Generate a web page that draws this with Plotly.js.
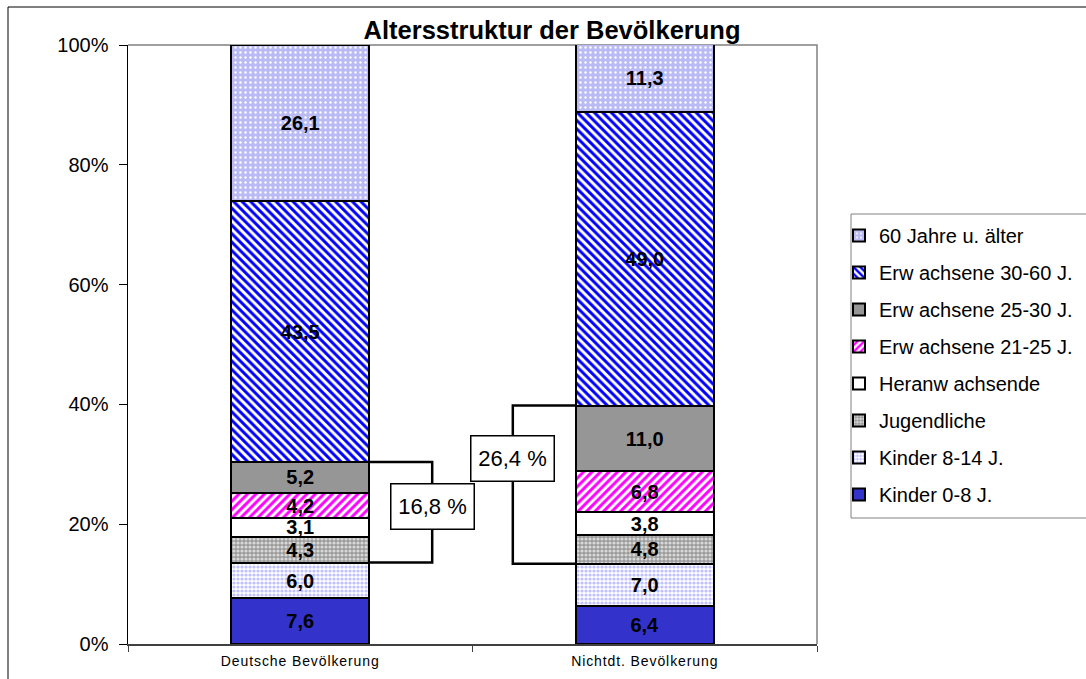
<!DOCTYPE html>
<html>
<head>
<meta charset="utf-8">
<script src="https://cdn.plot.ly/plotly-3.0.1.min.js"></script>
<style>
  html, body { margin: 0; padding: 0; background: #ffffff; }
  #chart { width: 1086px; height: 679px; }
  #chart .xtick text { letter-spacing: 0.9px; }
</style>
</head>
<body>
<div id="chart"></div>
<script>
// ---- Data ----
const categories = ['Deutsche Bevölkerung', 'Nichtdt. Bevölkerung'];
const seriesNames = [
  'Kinder 0-8 J.',
  'Kinder 8-14 J.',
  'Jugendliche',
  'Heranw achsende',
  'Erw achsene 21-25 J.',
  'Erw achsene 25-30 J.',
  'Erw achsene 30-60 J.',
  '60 Jahre u. älter'
];
const kinder0_8     = [7.6, 6.4];
const kinder8_14    = [6.0, 7.0];
const jugendliche   = [4.3, 4.8];
const heranwachsend = [3.1, 3.8];
const erw21_25      = [4.2, 6.8];
const erw25_30      = [5.2, 11.0];
const erw30_60      = [43.5, 49.0];
const ab60          = [26.1, 11.3];
const seriesValues = [kinder0_8, kinder8_14, jugendliche, heranwachsend, erw21_25, erw25_30, erw30_60, ab60];
const yTickVals = [0, 20, 40, 60, 80, 100];
const bracketLabels = ['16,8 %', '26,4 %'];

// ---- Styles ----
const FONT = 'Liberation Sans, Arial, sans-serif';
const styles = [
  {color: '#3333cc'},
  {color: '#ffffff', pattern: {shape: '.', fgcolor: '#c0c0ff', bgcolor: '#ffffff', size: 4, solidity: 0.5}},
  {color: '#a8a8a8', pattern: {shape: '.', fgcolor: '#d8d8d8', bgcolor: '#9a9a9a', size: 4, solidity: 0.5}},
  {color: '#ffffff'},
  {color: '#ffffff', pattern: {shape: '/', fgcolor: '#ff00ff', bgcolor: '#ffffff', size: 6, solidity: 0.5}},
  {color: '#969696'},
  {color: '#ffffff', pattern: {shape: '\\', fgcolor: '#0000ff', bgcolor: '#ffffff', size: 6, solidity: 0.5}},
  {color: '#babaf4', pattern: {shape: '.', fgcolor: '#ffffff', bgcolor: '#babaf4', size: 5, solidity: 0.18}}
];

const fmt = v => v.toFixed(1).replace('.', ',');

const traces = seriesValues.map((vals, i) => {
  const marker = {color: styles[i].color, line: {color: '#000000', width: 2}};
  if (styles[i].pattern) marker.pattern = Object.assign({fillmode: 'replace'}, styles[i].pattern);
  return {
    type: 'bar',
    name: seriesNames[i],
    x: categories,
    y: vals,
    width: 0.4,
    marker: marker,
    text: vals.map(fmt),
    textposition: 'inside',
    insidetextanchor: 'middle',
    constraintext: 'none',
    textangle: 0,
    textfont: {family: FONT, size: 20, color: '#000000', weight: 'bold'},
    legendgroup: 'g' + i,
    legendrank: 100 - i,
    hoverinfo: 'name+y'
  };
});

function cum(catIdx, upto) {
  let s = 0;
  for (let k = 0; k < upto; k++) s += seriesValues[k][catIdx];
  return s;
}
// brackets span Jugendliche .. Erwachsene 25-30 (series 2..5)
const shapes = [];
const annotations = [];
const bracketX = [0.383, 0.617];
const barEdge = [0.2, 0.8];
const boxShift = [0.9, 4.4];
for (let c = 0; c < 2; c++) {
  const lo = cum(c, 2);
  const hi = cum(c, 6);
  shapes.push({
    type: 'path', xref: 'x', yref: 'y',
    path: `M ${barEdge[c]} ${hi} L ${bracketX[c]} ${hi} L ${bracketX[c]} ${lo} L ${barEdge[c]} ${lo}`,
    line: {color: '#000000', width: 2.5}
  });
  annotations.push({
    xref: 'x', yref: 'y', x: bracketX[c], y: (lo + hi) / 2 + boxShift[c],
    text: bracketLabels[c], showarrow: false,
    font: {family: FONT, size: 22, color: '#000000'},
    bgcolor: '#ffffff', bordercolor: '#000000', borderwidth: 1.5,
    width: 80, height: 42, xanchor: 'center', yanchor: 'middle'
  });
}
// outer frame, plot area border, legend frame
const px = v => (v - 128) / 689;
const py = v => (644 - v) / 599;
shapes.push({type: 'rect', xref: 'paper', yref: 'paper', x0: px(8), x1: 1.6, y0: -0.2, y1: py(7),
  line: {color: '#000000', width: 1}, fillcolor: 'rgba(0,0,0,0)', layer: 'below'});
shapes.push({type: 'path', xref: 'paper', yref: 'paper', path: 'M 0 1 L 1 1 L 1 0',
  line: {color: '#808080', width: 1.5}, layer: 'below'});
shapes.push({type: 'rect', xref: 'paper', yref: 'paper', x0: px(851), x1: px(1120), y0: py(518), y1: py(214),
  line: {color: '#808080', width: 1}, fillcolor: '#ffffff', layer: 'below'});

const layout = {
  width: 1086, height: 679,
  margin: {l: 128, r: 269, t: 45, b: 35, pad: 0, autoexpand: false},
  paper_bgcolor: '#ffffff', plot_bgcolor: '#ffffff',
  font: {family: FONT, color: '#000000'},
  barmode: 'stack',
  bargap: 0.6,
  title: {
    text: '<b>Altersstruktur der Bevölkerung</b>',
    font: {size: 25.5, color: '#000000'},
    x: px(552), xref: 'paper', xanchor: 'center',
    y: 1 - 30 / 679, yref: 'container', yanchor: 'middle'
  },
  xaxis: {
    type: 'category',
    showline: true, linecolor: '#404040', linewidth: 1.5,
    ticks: 'outside', tickson: 'boundaries', ticklen: 6, tickcolor: '#404040',
    tickfont: {size: 14, color: '#000000'},
    ticklabelstandoff: 4,
    showgrid: false, zeroline: false, fixedrange: true
  },
  yaxis: {
    range: [0, 100],
    tickvals: yTickVals,
    ticktext: yTickVals.map(v => v + '%'),
    showline: true, linecolor: '#000000', linewidth: 1.5,
    ticks: 'outside', ticklen: 8, tickcolor: '#000000',
    tickfont: {size: 20, color: '#000000'},
    ticklabelstandoff: 6,
    showgrid: false, zeroline: false, fixedrange: true
  },
  legend: {
    x: px(839), xanchor: 'left', xref: 'paper',
    y: py(216), yanchor: 'top', yref: 'paper',
    traceorder: 'grouped',
    tracegroupgap: 8,
    font: {size: 20, color: '#000000'},
    borderwidth: 0,
    bgcolor: 'rgba(0,0,0,0)',
    itemwidth: 30
  },
  shapes: shapes,
  annotations: annotations,
  showlegend: true
};

Plotly.newPlot('chart', traces, layout, {displayModeBar: false, staticPlot: true});
</script>
</body>
</html>
